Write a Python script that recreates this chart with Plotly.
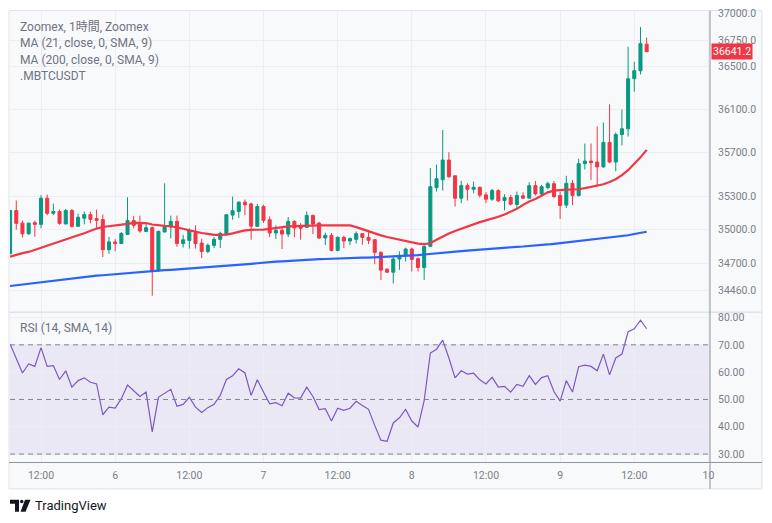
import math
import pandas as pd
import plotly.graph_objects as go

# ---------------- data ----------------
start_time = "2023-11-05 07:00"

opens = [34784, 35173, 35059, 34963, 35063, 35048, 35285, 35148, 35164, 35052,
         35173, 35030, 35103, 35136, 35100, 35091, 34820, 34890, 34875, 34957,
         35082, 35063, 34984, 35018, 34630, 34979, 35024, 35075, 34875, 34903,
         34972, 34880, 34805, 34859, 34913, 34960, 35132, 35165, 35249, 35233,
         35030, 35210, 35090, 34970, 34994, 34960, 35075, 35024, 35021, 35129,
         35060, 34925, 34949, 34814, 34931, 34898, 34913, 34964, 34931, 34910,
         34796, 34646, 34619, 34736, 34769, 34826, 34740, 34661, 34850, 35381,
         35453, 35633, 35489, 35285, 35399, 35366, 35384, 35315, 35276, 35354,
         35264, 35291, 35228, 35306, 35285, 35399, 35324, 35381, 35417, 35309,
         35222, 35420, 35309, 35600, 35624, 35615, 35570, 35795, 35615, 35868,
         35921, 36387, 36462, 36712]

highs = [35180, 35264, 35082, 35063, 35082, 35312, 35318, 35236, 35182, 35188,
         35188, 35145, 35164, 35164, 35182, 35136, 34936, 34915, 34979, 35294,
         35124, 35127, 35063, 35030, 34990, 35420, 35127, 35127, 34954, 35012,
         35039, 34918, 34877, 34934, 34982, 35140, 35300, 35255, 35273, 35246,
         35234, 35225, 35120, 35039, 35015, 35114, 35084, 35060, 35165, 35135,
         35069, 34973, 34970, 34940, 34946, 34931, 34985, 34970, 34979, 34916,
         34805, 34655, 34760, 34805, 34838, 34838, 34751, 34859, 35560, 35591,
         35910, 35705, 35490, 35444, 35420, 35435, 35390, 35339, 35369, 35366,
         35321, 35315, 35345, 35339, 35429, 35441, 35405, 35435, 35441, 35340,
         35489, 35450, 35645, 35785, 35785, 35942, 35979, 36148, 35887, 36099,
         36687, 36546, 36875, 36774]

lows = [34780, 35000, 34930, 34954, 34936, 35012, 35130, 35130, 35045, 35048,
        35018, 35030, 35048, 35057, 35018, 34754, 34784, 34806, 34872, 34957,
        35012, 34972, 34982, 34410, 34625, 34975, 34920, 34845, 34840, 34830,
        34830, 34745, 34790, 34835, 34835, 34955, 35090, 35105, 35130, 34910,
        35030, 35060, 34934, 34916, 34826, 34934, 34931, 34910, 35018, 34960,
        34916, 34862, 34805, 34805, 34835, 34862, 34875, 34865, 34870, 34690,
        34550, 34613, 34520, 34640, 34715, 34625, 34625, 34550, 34850, 35345,
        35354, 35471, 35210, 35240, 35264, 35330, 35291, 35240, 35261, 35249,
        35174, 35219, 35195, 35283, 35283, 35309, 35315, 35366, 35285, 35097,
        35195, 35222, 35300, 35546, 35450, 35390, 35565, 35605, 35530, 35768,
        35850, 36266, 36427, 36641.2]

closes = [35173, 35057, 34963, 35059, 35048, 35285, 35148, 35164, 35057, 35173,
          35030, 35112, 35136, 35093, 35084, 34820, 34890, 34875, 34966, 35082,
          35039, 34988, 35018, 34630, 34985, 35030, 35075, 34875, 34909, 34990,
          34875, 34805, 34859, 34913, 34967, 35135, 35171, 35249, 35225, 35032,
          35210, 35084, 34970, 34994, 34960, 35075, 35015, 35012, 35129, 35051,
          34925, 34949, 34814, 34931, 34898, 34920, 34964, 34931, 34904, 34796,
          34637, 34619, 34736, 34769, 34826, 34733, 34661, 34850, 35390, 35462,
          35633, 35480, 35285, 35399, 35366, 35384, 35312, 35276, 35354, 35261,
          35291, 35231, 35309, 35285, 35399, 35324, 35390, 35417, 35300, 35219,
          35420, 35309, 35600, 35624, 35609, 35570, 35795, 35615, 35868, 35921,
          36387, 36462, 36718, 36641.2]

ma21 = [34757, 34774, 34789, 34800, 34819, 34838, 34859, 34877, 34898, 34918,
        34935, 34950, 34968, 34990, 35010, 35024, 35030, 35035, 35040, 35052,
        35062, 35062, 35060, 35047, 35039, 35034, 35031, 35021, 35008, 34994,
        34980, 34970, 34962, 34954, 34954, 34955, 34967, 34979, 34994, 34999,
        34999, 35001, 35008, 35016, 35023, 35029, 35032, 35035, 35036, 35038,
        35039, 35040, 35041, 35041, 35040, 35039, 35023, 35004, 34983, 34965,
        34949, 34934, 34922, 34914, 34899, 34887, 34875, 34870, 34878, 34909,
        34940, 34965, 34989, 35010, 35026, 35046, 35068, 35084, 35099, 35116,
        35138, 35163, 35188, 35224, 35255, 35277, 35309, 35338, 35354, 35360,
        35362, 35364, 35366, 35376, 35386, 35396, 35412, 35433, 35458, 35495,
        35540, 35600, 35658, 35727]

ma200 = [34496, 34503, 34510, 34517, 34524, 34531, 34538, 34545, 34552, 34559,
         34566, 34573, 34578, 34583, 34588, 34592, 34597, 34602, 34607, 34611,
         34616, 34621, 34626, 34630, 34634, 34637, 34640, 34644, 34647, 34650,
         34653, 34657, 34660, 34664, 34669, 34674, 34679, 34684, 34689, 34694,
         34699, 34705, 34709, 34713, 34716, 34720, 34724, 34727, 34731, 34733,
         34735, 34737, 34740, 34742, 34744, 34745, 34747, 34749, 34750, 34752,
         34755, 34757, 34760, 34762, 34764, 34767, 34772, 34777, 34781, 34786,
         34792, 34797, 34802, 34807, 34812, 34817, 34822, 34827, 34831, 34836,
         34839, 34842, 34846, 34849, 34852, 34855, 34861, 34867, 34873, 34879,
         34885, 34891, 34898, 34904, 34910, 34916, 34922, 34928, 34934, 34940,
         34950, 34961, 34971, 34981]

rsi = [70.3, 64.9, 59.7, 63.0, 62.1, 69.0, 62.1, 62.4, 57.3, 60.5,
       54.5, 56.9, 57.9, 56.3, 55.7, 44.4, 47.2, 46.8, 50.3, 55.3,
       53.3, 51.1, 52.7, 38.1, 50.8, 52.3, 53.7, 47.5, 48.2, 50.8,
       47.2, 45.2, 47.0, 48.2, 51.5, 57.3, 58.7, 61.2, 59.7, 51.5,
       57.2, 52.7, 48.4, 48.8, 47.7, 52.3, 50.6, 50.5, 54.5, 51.1,
       46.3, 46.6, 42.1, 46.8, 46.0, 46.8, 49.3, 47.8, 46.4, 40.5,
       35.1, 34.7, 41.4, 43.3, 46.4, 42.1, 39.9, 49.6, 67.0, 68.4,
       71.7, 65.2, 57.9, 60.5, 59.3, 59.6, 57.2, 55.7, 58.1, 54.5,
       54.8, 52.7, 55.5, 54.8, 58.7, 55.5, 58.0, 58.7, 52.9, 49.4,
       56.9, 52.7, 62.0, 62.6, 62.1, 60.5, 66.6, 59.0, 65.2, 66.6,
       74.8, 75.9, 79.0, 75.9]

last_price = 36641.2

price_ticks = [34460, 34700, 35000, 35300, 35700, 36100, 36500, 36750]
top_price_tick = 37000
rsi_ticks = [30, 40, 50, 60, 70, 80]
time_tick_vals = ["2023-11-05 12:00", "2023-11-06 00:00", "2023-11-06 12:00",
                  "2023-11-07 00:00", "2023-11-07 12:00", "2023-11-08 00:00",
                  "2023-11-08 12:00", "2023-11-09 00:00", "2023-11-09 12:00",
                  "2023-11-10 00:00"]
time_tick_text = ["12:00", "6", "12:00", "7", "12:00", "8", "12:00", "9", "12:00", "10"]

legend_lines = ["Zoomex, 1時間, Zoomex", "MA (21, close, 0, SMA, 9)",
                "MA (200, close, 0, SMA, 9)", ".MBTCUSDT"]
rsi_title = "RSI (14, SMA, 14)"

n = len(closes)
for arr in (opens, highs, lows, ma21, ma200, rsi):
    assert len(arr) == n, len(arr)
times = pd.date_range(start_time, periods=n, freq="h")

# ---------------- geometry helpers ----------------
# The page body has an 8px margin, so the figure starts at page (8, 8).
OFF = 8
W, H = 764, 515
ML, MR, MT, MB = 2, 62, 1, 61
PW, PH = W - ML - MR, H - MT - MB


def px(x_page):
    return (x_page - OFF - ML) / PW


def py(y_page):
    return (H - MB - (y_page - OFF)) / PH


FONT = "Roboto, Noto Sans, Noto Sans CJK JP, sans-serif"
TXT = "#707380"
TICK = "#7b7e87"
GRID = "#eceef3"
GREEN = "#089981"
RED = "#F23645"

fig = go.Figure()
fig.add_trace(go.Candlestick(
    x=times, open=opens, high=highs, low=lows, close=closes,
    xaxis="x", yaxis="y",
    increasing=dict(line=dict(color=GREEN, width=1), fillcolor=GREEN),
    decreasing=dict(line=dict(color=RED, width=1), fillcolor=RED),
    whiskerwidth=0, hoverinfo="skip"))
fig.add_trace(go.Scatter(x=times, y=ma21, mode="lines", xaxis="x", yaxis="y",
                         line=dict(color=RED, width=2.2), hoverinfo="skip"))
fig.add_trace(go.Scatter(x=times, y=ma200, mode="lines", xaxis="x", yaxis="y",
                         line=dict(color="#2962FF", width=2.2), hoverinfo="skip"))
fig.add_trace(go.Scatter(x=times, y=rsi, mode="lines", xaxis="x2", yaxis="y2",
                         line=dict(color="#7E57C2", width=1.2), hoverinfo="skip"))

x_range = ["2023-11-05 06:59", "2023-11-10 00:15"]
price_lo, price_hi = 34269, 37027
split_top = py(311)
rsi_top = py(312.5)

axis_common = dict(showline=False, zeroline=False, ticks="",
                   tickfont=dict(family=FONT, size=10.5, color=TICK))

fig.update_layout(
    width=W, height=H, autosize=False,
    margin=dict(l=ML, r=MR, t=MT, b=MB),
    paper_bgcolor="white", plot_bgcolor="rgba(0,0,0,0)",
    showlegend=False, hovermode=False,
    xaxis=dict(domain=[0, 1], anchor="y", range=x_range, type="date",
               tickvals=time_tick_vals, showticklabels=False,
               showgrid=True, gridcolor=GRID, gridwidth=1,
               rangeslider=dict(visible=False), **axis_common),
    xaxis2=dict(domain=[0, 1], anchor="y2", range=x_range, type="date",
                matches="x", tickvals=time_tick_vals, ticktext=time_tick_text,
                showgrid=True, gridcolor=GRID, gridwidth=1,
                ticklabelstandoff=5, **axis_common),
    yaxis=dict(domain=[split_top, 1], anchor="x", side="right", type="log",
               range=[math.log10(price_lo), math.log10(price_hi)],
               tickvals=price_ticks, ticktext=[f"{v:.1f}" for v in price_ticks],
               showgrid=True, gridcolor=GRID, gridwidth=1,
               ticklabelstandoff=7, **axis_common),
    yaxis2=dict(domain=[0, rsi_top], anchor="x2", side="right",
                range=[27.1, 81.6],
                tickvals=rsi_ticks, ticktext=[f"{v:.2f}" for v in rsi_ticks],
                showgrid=True, gridcolor=GRID, gridwidth=1,
                ticklabelstandoff=7, **axis_common),
)

shapes = []
# chart widget background and frame
shapes.append(dict(type="rect", xref="paper", yref="paper", layer="below",
                   x0=px(9), x1=px(762), y0=py(489), y1=py(8.5),
                   fillcolor="#f8f9fb", line=dict(color="#e0e3eb", width=1)))
# grid line for the top price level
shapes.append(dict(type="line", xref="paper", yref="y", x0=0, x1=1, layer="below",
                   y0=math.log10(top_price_tick), y1=math.log10(top_price_tick),
                   line=dict(color=GRID, width=1)))
# RSI band 30-70
shapes.append(dict(type="rect", xref="paper", yref="y2", layer="below",
                   x0=0, x1=1, y0=30, y1=70,
                   fillcolor="rgba(126,87,194,0.10)", line=dict(width=0)))
for lvl in (70, 50, 30):
    shapes.append(dict(type="line", xref="paper", yref="y2", x0=0, x1=1,
                       y0=lvl, y1=lvl,
                       line=dict(color="#80838c", width=1, dash="5px,4px")))
# pane separator
shapes.append(dict(type="line", xref="paper", yref="paper",
                   x0=px(9), x1=px(762), y0=py(311.7), y1=py(311.7),
                   line=dict(color="#e0e3eb", width=1.5)))
# bottom time axis line
shapes.append(dict(type="line", xref="paper", yref="paper",
                   x0=px(9), x1=px(762), y0=py(462.5), y1=py(462.5),
                   line=dict(color="#8f939b", width=1)))
# right price axis line
shapes.append(dict(type="line", xref="paper", yref="paper",
                   x0=px(710), x1=px(710), y0=py(489), y1=py(8.5),
                   line=dict(color="#8f939b", width=1)))
# last price dotted line
shapes.append(dict(type="line", xref="paper", yref="y", x0=0, x1=1,
                   y0=math.log10(last_price), y1=math.log10(last_price),
                   line=dict(color=RED, width=1, dash="1px,2px")))
# TradingView logo glyph
shapes.append(dict(type="path", xref="paper", yref="paper",
                   path=(f"M {px(10)} {py(500)} L {px(19)} {py(500)} L {px(19)} {py(512)} "
                         f"L {px(15)} {py(512)} L {px(15)} {py(504)} L {px(10)} {py(504)} Z"),
                   fillcolor="#131722", line=dict(width=0)))
shapes.append(dict(type="circle", xref="paper", yref="paper",
                   x0=px(20), x1=px(23.5), y0=py(500), y1=py(503.5),
                   fillcolor="#131722", line=dict(width=0)))
shapes.append(dict(type="path", xref="paper", yref="paper",
                   path=(f"M {px(25)} {py(500)} L {px(30.5)} {py(500)} L {px(25.5)} {py(512)} "
                         f"L {px(20.5)} {py(512)} Z"),
                   fillcolor="#131722", line=dict(width=0)))
fig.update_layout(shapes=shapes)

ann = []
for txt, yy in zip(legend_lines, [25, 41.5, 58, 74.5]):
    ann.append(dict(text=txt, xref="paper", yref="paper", x=px(17.5), y=py(yy),
                    xanchor="left", yanchor="middle", showarrow=False,
                    font=dict(family=FONT, size=12, color=TXT)))
ann.append(dict(text=rsi_title, xref="paper", yref="paper", x=px(17.5), y=py(327),
                xanchor="left", yanchor="middle", showarrow=False,
                font=dict(family=FONT, size=12, color=TXT)))
# top price level label (partly clipped in the reference)
ann.append(dict(text=f"{top_price_tick:.1f}", xref="paper", yref="y", x=1,
                y=math.log10(top_price_tick), xanchor="left", yanchor="middle",
                xshift=6, showarrow=False,
                font=dict(family=FONT, size=10.5, color=TICK)))
ann.append(dict(text=f"{last_price:.1f}", xref="paper", yref="y", x=1,
                y=math.log10(last_price), xanchor="left", yanchor="middle",
                xshift=1, showarrow=False, bgcolor=RED, borderpad=1,
                font=dict(family=FONT, size=10.5, color="white")))
ann.append(dict(text="TradingView", xref="paper", yref="paper", x=px(33),
                y=py(506), xanchor="left", yanchor="middle", showarrow=False,
                font=dict(family=FONT, size=13, color="#131722")))
fig.update_layout(annotations=ann)

fig.write_html("out.html")
